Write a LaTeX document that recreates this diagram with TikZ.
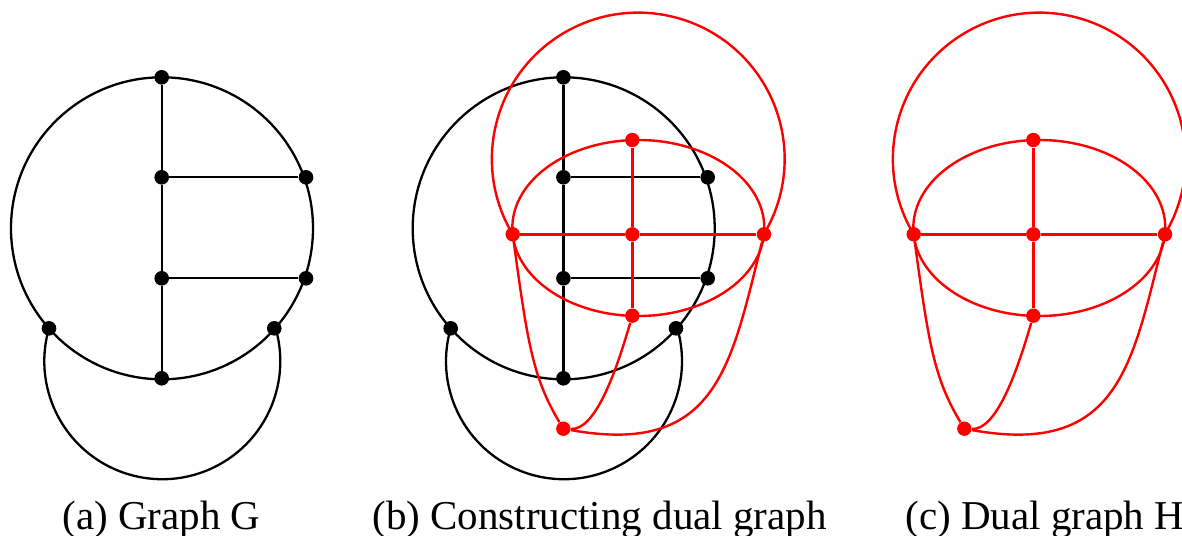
\documentclass[tikz,border=0pt]{standalone}
\usepackage{fontspec}
\setmainfont{Liberation Serif}
\pgfdeclarelayer{background}
\pgfsetlayers{background,main}
\tikzset{
  bdot/.style={circle, fill=black, inner sep=0pt, minimum size=7.3pt},
  rdot/.style={circle, fill=red, inner sep=0pt, minimum size=7.2pt},
  bedge/.style={draw=black, line width=1.15pt},
  redge/.style={draw=red, line width=1.2pt},
  caption/.style={font=\fontsize{20.5}{24}\selectfont, anchor=base west, inner sep=0pt}
}
\begin{document}
\begin{tikzpicture}[x=0.5pt, y=-0.5pt]
\useasboundingbox (0,0) rectangle (1182,535);
% ---------- graph G (panels a and b) ----------
\foreach \p/\s in {a/0, b/401.7}{
  \begin{scope}[shift={(\s,0)}]
    \coordinate (\p0) at (162,228.3);
    \node[bdot] (\p1) at (161.7,77.3) {};
    \node[bdot] (\p2) at (161.7,177.3) {};
    \node[bdot] (\p3) at (306,177.3) {};
    \node[bdot] (\p4) at (161.7,278.3) {};
    \node[bdot] (\p5) at (306,278.3) {};
    \node[bdot] (\p6) at (161.7,378.3) {};
    \node[bdot] (\p7) at (49,328.3) {};
    \node[bdot] (\p8) at (274.3,328.3) {};
    \begin{pgfonlayer}{background}
      \path[bedge] (\p0) circle[radius=151];
      \path[bedge] (\p1) -- (\p2) -- (\p4) -- (\p6);
      \path[bedge] (\p2) -- (\p3);
      \path[bedge] (\p4) -- (\p5);
      \path[bedge] (\p7.center) arc[start angle=196.2, end angle=-16.2, radius=118];
    \end{pgfonlayer}
  \end{scope}
}
% ---------- dual graph H (panels b and c) ----------
\foreach \p/\s in {b/0, c/401}{
  \begin{scope}[shift={(\s,0)}]
    \coordinate (\p o) at (638.3,159);
    \coordinate (\p e) at (638.3,228);
    \node[rdot] (\p r1) at (632.3,140) {};
    \node[rdot] (\p r2) at (512.7,234.3) {};
    \node[rdot] (\p r3) at (632.3,234.3) {};
    \node[rdot] (\p r4) at (764,234.3) {};
    \node[rdot] (\p r5) at (632.3,315.7) {};
    \node[rdot] (\p r6) at (563.3,428.7) {};
    \begin{pgfonlayer}{background}
      \path[redge] (\p r2.center) arc[start angle=149.06, end angle=390.94, radius=146.4];
      \path[redge] (\p e) ellipse[x radius=126, y radius=88];
      \path[redge] (\p r2) -- (\p r3) -- (\p r4);
      \path[redge] (\p r1) -- (\p r3) -- (\p r5);
      \path[redge] (\p r5) .. controls (615,375) and (595,430) .. (\p r6);
      \path[redge] (\p r2) .. controls (527.7,344) and (533,378) .. (\p r6);
      \path[redge] (\p r4) .. controls (730.9,364.3) and (718.3,456.6) .. (\p r6);
    \end{pgfonlayer}
  \end{scope}
}
% ---------- captions ----------
\node[caption] (capa) at (62,529.5) {(a) Graph G};
\node[caption] (capb) at (372,529.5) {(b) Constructing dual graph};
\node[caption] (capc) at (905,529.5) {(c) Dual graph H};
\end{tikzpicture}
\end{document}
